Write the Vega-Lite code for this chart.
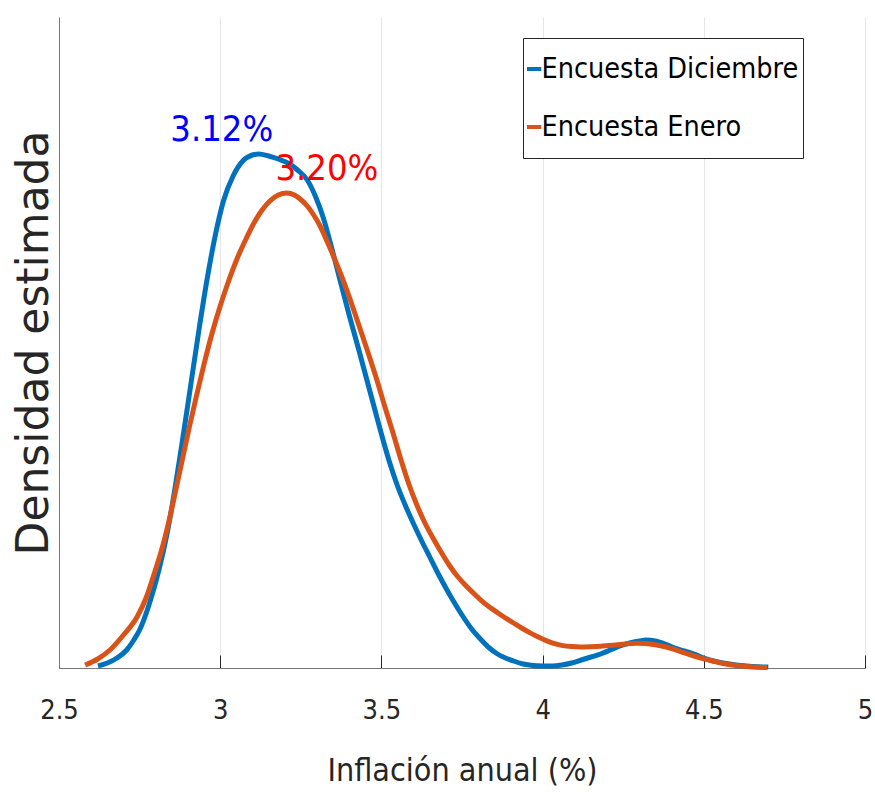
{
  "$schema": "https://vega.github.io/schema/vega-lite/v6.json",
  "width": 806,
  "height": 651,
  "autosize": {"type": "none"},
  "padding": {"left": 59, "top": 17, "right": 10, "bottom": 132},
  "background": "white",
  "config": {"view": {"stroke": null}, "font": "DejaVu Sans Condensed, Liberation Sans, sans-serif"},
  "datasets": {
    "kde": [
      {"encuesta": "Encuesta Diciembre", "inflacion": 2.621, "densidad": 0.01},
      {"encuesta": "Encuesta Diciembre", "inflacion": 2.65, "densidad": 0.025},
      {"encuesta": "Encuesta Diciembre", "inflacion": 2.68, "densidad": 0.05},
      {"encuesta": "Encuesta Diciembre", "inflacion": 2.71, "densidad": 0.09},
      {"encuesta": "Encuesta Diciembre", "inflacion": 2.73, "densidad": 0.135},
      {"encuesta": "Encuesta Diciembre", "inflacion": 2.75, "densidad": 0.19},
      {"encuesta": "Encuesta Diciembre", "inflacion": 2.782, "densidad": 0.33},
      {"encuesta": "Encuesta Diciembre", "inflacion": 2.81, "densidad": 0.49},
      {"encuesta": "Encuesta Diciembre", "inflacion": 2.835, "densidad": 0.67},
      {"encuesta": "Encuesta Diciembre", "inflacion": 2.86, "densidad": 0.9},
      {"encuesta": "Encuesta Diciembre", "inflacion": 2.885, "densidad": 1.16},
      {"encuesta": "Encuesta Diciembre", "inflacion": 2.91, "densidad": 1.43},
      {"encuesta": "Encuesta Diciembre", "inflacion": 2.935, "densidad": 1.7},
      {"encuesta": "Encuesta Diciembre", "inflacion": 2.96, "densidad": 1.95},
      {"encuesta": "Encuesta Diciembre", "inflacion": 2.985, "densidad": 2.165},
      {"encuesta": "Encuesta Diciembre", "inflacion": 3.01, "densidad": 2.335},
      {"encuesta": "Encuesta Diciembre", "inflacion": 3.04, "densidad": 2.46},
      {"encuesta": "Encuesta Diciembre", "inflacion": 3.07, "densidad": 2.535},
      {"encuesta": "Encuesta Diciembre", "inflacion": 3.1, "densidad": 2.565},
      {"encuesta": "Encuesta Diciembre", "inflacion": 3.12, "densidad": 2.57},
      {"encuesta": "Encuesta Diciembre", "inflacion": 3.15, "densidad": 2.56},
      {"encuesta": "Encuesta Diciembre", "inflacion": 3.18, "densidad": 2.545},
      {"encuesta": "Encuesta Diciembre", "inflacion": 3.21, "densidad": 2.525},
      {"encuesta": "Encuesta Diciembre", "inflacion": 3.24, "densidad": 2.49},
      {"encuesta": "Encuesta Diciembre", "inflacion": 3.27, "densidad": 2.44},
      {"encuesta": "Encuesta Diciembre", "inflacion": 3.295, "densidad": 2.36},
      {"encuesta": "Encuesta Diciembre", "inflacion": 3.32, "densidad": 2.25},
      {"encuesta": "Encuesta Diciembre", "inflacion": 3.345, "densidad": 2.105},
      {"encuesta": "Encuesta Diciembre", "inflacion": 3.37, "densidad": 1.95},
      {"encuesta": "Encuesta Diciembre", "inflacion": 3.4, "densidad": 1.765},
      {"encuesta": "Encuesta Diciembre", "inflacion": 3.43, "densidad": 1.59},
      {"encuesta": "Encuesta Diciembre", "inflacion": 3.455, "densidad": 1.44},
      {"encuesta": "Encuesta Diciembre", "inflacion": 3.48, "densidad": 1.29},
      {"encuesta": "Encuesta Diciembre", "inflacion": 3.5, "densidad": 1.17},
      {"encuesta": "Encuesta Diciembre", "inflacion": 3.525, "densidad": 1.03},
      {"encuesta": "Encuesta Diciembre", "inflacion": 3.55, "densidad": 0.91},
      {"encuesta": "Encuesta Diciembre", "inflacion": 3.575, "densidad": 0.81},
      {"encuesta": "Encuesta Diciembre", "inflacion": 3.6, "densidad": 0.72},
      {"encuesta": "Encuesta Diciembre", "inflacion": 3.625, "densidad": 0.635},
      {"encuesta": "Encuesta Diciembre", "inflacion": 3.65, "densidad": 0.555},
      {"encuesta": "Encuesta Diciembre", "inflacion": 3.675, "densidad": 0.475},
      {"encuesta": "Encuesta Diciembre", "inflacion": 3.7, "densidad": 0.4},
      {"encuesta": "Encuesta Diciembre", "inflacion": 3.725, "densidad": 0.33},
      {"encuesta": "Encuesta Diciembre", "inflacion": 3.75, "densidad": 0.265},
      {"encuesta": "Encuesta Diciembre", "inflacion": 3.78, "densidad": 0.195},
      {"encuesta": "Encuesta Diciembre", "inflacion": 3.81, "densidad": 0.14},
      {"encuesta": "Encuesta Diciembre", "inflacion": 3.835, "densidad": 0.1},
      {"encuesta": "Encuesta Diciembre", "inflacion": 3.86, "densidad": 0.07},
      {"encuesta": "Encuesta Diciembre", "inflacion": 3.885, "densidad": 0.05},
      {"encuesta": "Encuesta Diciembre", "inflacion": 3.91, "densidad": 0.035},
      {"encuesta": "Encuesta Diciembre", "inflacion": 3.94, "densidad": 0.02},
      {"encuesta": "Encuesta Diciembre", "inflacion": 3.97, "densidad": 0.0125},
      {"encuesta": "Encuesta Diciembre", "inflacion": 4.0, "densidad": 0.01},
      {"encuesta": "Encuesta Diciembre", "inflacion": 4.03, "densidad": 0.01},
      {"encuesta": "Encuesta Diciembre", "inflacion": 4.06, "densidad": 0.015},
      {"encuesta": "Encuesta Diciembre", "inflacion": 4.09, "densidad": 0.025},
      {"encuesta": "Encuesta Diciembre", "inflacion": 4.12, "densidad": 0.04},
      {"encuesta": "Encuesta Diciembre", "inflacion": 4.15, "densidad": 0.055},
      {"encuesta": "Encuesta Diciembre", "inflacion": 4.18, "densidad": 0.07},
      {"encuesta": "Encuesta Diciembre", "inflacion": 4.21, "densidad": 0.09},
      {"encuesta": "Encuesta Diciembre", "inflacion": 4.24, "densidad": 0.11},
      {"encuesta": "Encuesta Diciembre", "inflacion": 4.27, "densidad": 0.125},
      {"encuesta": "Encuesta Diciembre", "inflacion": 4.3, "densidad": 0.135},
      {"encuesta": "Encuesta Diciembre", "inflacion": 4.32, "densidad": 0.14},
      {"encuesta": "Encuesta Diciembre", "inflacion": 4.35, "densidad": 0.135},
      {"encuesta": "Encuesta Diciembre", "inflacion": 4.38, "densidad": 0.12},
      {"encuesta": "Encuesta Diciembre", "inflacion": 4.41, "densidad": 0.1},
      {"encuesta": "Encuesta Diciembre", "inflacion": 4.44, "densidad": 0.085},
      {"encuesta": "Encuesta Diciembre", "inflacion": 4.47, "densidad": 0.07},
      {"encuesta": "Encuesta Diciembre", "inflacion": 4.5, "densidad": 0.05},
      {"encuesta": "Encuesta Diciembre", "inflacion": 4.53, "densidad": 0.035},
      {"encuesta": "Encuesta Diciembre", "inflacion": 4.56, "densidad": 0.025},
      {"encuesta": "Encuesta Diciembre", "inflacion": 4.6, "densidad": 0.015},
      {"encuesta": "Encuesta Diciembre", "inflacion": 4.65, "densidad": 0.0075},
      {"encuesta": "Encuesta Diciembre", "inflacion": 4.7, "densidad": 0.005},
      {"encuesta": "Encuesta Enero", "inflacion": 2.581, "densidad": 0.015},
      {"encuesta": "Encuesta Enero", "inflacion": 2.62, "densidad": 0.045},
      {"encuesta": "Encuesta Enero", "inflacion": 2.658, "densidad": 0.09},
      {"encuesta": "Encuesta Enero", "inflacion": 2.7, "densidad": 0.165},
      {"encuesta": "Encuesta Enero", "inflacion": 2.742, "densidad": 0.255},
      {"encuesta": "Encuesta Enero", "inflacion": 2.77, "densidad": 0.35},
      {"encuesta": "Encuesta Enero", "inflacion": 2.792, "densidad": 0.455},
      {"encuesta": "Encuesta Enero", "inflacion": 2.82, "densidad": 0.6},
      {"encuesta": "Encuesta Enero", "inflacion": 2.844, "densidad": 0.755},
      {"encuesta": "Encuesta Enero", "inflacion": 2.865, "densidad": 0.91},
      {"encuesta": "Encuesta Enero", "inflacion": 2.885, "densidad": 1.06},
      {"encuesta": "Encuesta Enero", "inflacion": 2.905, "densidad": 1.21},
      {"encuesta": "Encuesta Enero", "inflacion": 2.927, "densidad": 1.365},
      {"encuesta": "Encuesta Enero", "inflacion": 2.95, "densidad": 1.52},
      {"encuesta": "Encuesta Enero", "inflacion": 2.975, "densidad": 1.675},
      {"encuesta": "Encuesta Enero", "inflacion": 3.0, "densidad": 1.81},
      {"encuesta": "Encuesta Enero", "inflacion": 3.025, "densidad": 1.93},
      {"encuesta": "Encuesta Enero", "inflacion": 3.052, "densidad": 2.045},
      {"encuesta": "Encuesta Enero", "inflacion": 3.08, "densidad": 2.145},
      {"encuesta": "Encuesta Enero", "inflacion": 3.103, "densidad": 2.22},
      {"encuesta": "Encuesta Enero", "inflacion": 3.13, "densidad": 2.29},
      {"encuesta": "Encuesta Enero", "inflacion": 3.154, "densidad": 2.335},
      {"encuesta": "Encuesta Enero", "inflacion": 3.18, "densidad": 2.365},
      {"encuesta": "Encuesta Enero", "inflacion": 3.207, "densidad": 2.375},
      {"encuesta": "Encuesta Enero", "inflacion": 3.23, "densidad": 2.365},
      {"encuesta": "Encuesta Enero", "inflacion": 3.248, "densidad": 2.345},
      {"encuesta": "Encuesta Enero", "inflacion": 3.27, "densidad": 2.31},
      {"encuesta": "Encuesta Enero", "inflacion": 3.288, "densidad": 2.27},
      {"encuesta": "Encuesta Enero", "inflacion": 3.31, "densidad": 2.21},
      {"encuesta": "Encuesta Enero", "inflacion": 3.331, "densidad": 2.135},
      {"encuesta": "Encuesta Enero", "inflacion": 3.355, "densidad": 2.045},
      {"encuesta": "Encuesta Enero", "inflacion": 3.381, "densidad": 1.94},
      {"encuesta": "Encuesta Enero", "inflacion": 3.41, "densidad": 1.81},
      {"encuesta": "Encuesta Enero", "inflacion": 3.434, "densidad": 1.695},
      {"encuesta": "Encuesta Enero", "inflacion": 3.46, "densidad": 1.57},
      {"encuesta": "Encuesta Enero", "inflacion": 3.485, "densidad": 1.445},
      {"encuesta": "Encuesta Enero", "inflacion": 3.51, "densidad": 1.31},
      {"encuesta": "Encuesta Enero", "inflacion": 3.536, "densidad": 1.175},
      {"encuesta": "Encuesta Enero", "inflacion": 3.56, "densidad": 1.045},
      {"encuesta": "Encuesta Enero", "inflacion": 3.585, "densidad": 0.92},
      {"encuesta": "Encuesta Enero", "inflacion": 3.61, "densidad": 0.815},
      {"encuesta": "Encuesta Enero", "inflacion": 3.635, "densidad": 0.725},
      {"encuesta": "Encuesta Enero", "inflacion": 3.66, "densidad": 0.65},
      {"encuesta": "Encuesta Enero", "inflacion": 3.685, "densidad": 0.58},
      {"encuesta": "Encuesta Enero", "inflacion": 3.71, "densidad": 0.515},
      {"encuesta": "Encuesta Enero", "inflacion": 3.735, "densidad": 0.46},
      {"encuesta": "Encuesta Enero", "inflacion": 3.76, "densidad": 0.415},
      {"encuesta": "Encuesta Enero", "inflacion": 3.785, "densidad": 0.375},
      {"encuesta": "Encuesta Enero", "inflacion": 3.81, "densidad": 0.337},
      {"encuesta": "Encuesta Enero", "inflacion": 3.835, "densidad": 0.305},
      {"encuesta": "Encuesta Enero", "inflacion": 3.86, "densidad": 0.277},
      {"encuesta": "Encuesta Enero", "inflacion": 3.885, "densidad": 0.25},
      {"encuesta": "Encuesta Enero", "inflacion": 3.91, "densidad": 0.225},
      {"encuesta": "Encuesta Enero", "inflacion": 3.935, "densidad": 0.2},
      {"encuesta": "Encuesta Enero", "inflacion": 3.96, "densidad": 0.177},
      {"encuesta": "Encuesta Enero", "inflacion": 3.99, "densidad": 0.152},
      {"encuesta": "Encuesta Enero", "inflacion": 4.013, "densidad": 0.136},
      {"encuesta": "Encuesta Enero", "inflacion": 4.04, "densidad": 0.121},
      {"encuesta": "Encuesta Enero", "inflacion": 4.063, "densidad": 0.112},
      {"encuesta": "Encuesta Enero", "inflacion": 4.09, "densidad": 0.107},
      {"encuesta": "Encuesta Enero", "inflacion": 4.116, "densidad": 0.105},
      {"encuesta": "Encuesta Enero", "inflacion": 4.15, "densidad": 0.1065},
      {"encuesta": "Encuesta Enero", "inflacion": 4.18, "densidad": 0.109},
      {"encuesta": "Encuesta Enero", "inflacion": 4.218, "densidad": 0.114},
      {"encuesta": "Encuesta Enero", "inflacion": 4.25, "densidad": 0.119},
      {"encuesta": "Encuesta Enero", "inflacion": 4.29, "densidad": 0.124},
      {"encuesta": "Encuesta Enero", "inflacion": 4.32, "densidad": 0.1225},
      {"encuesta": "Encuesta Enero", "inflacion": 4.35, "densidad": 0.116},
      {"encuesta": "Encuesta Enero", "inflacion": 4.38, "densidad": 0.106},
      {"encuesta": "Encuesta Enero", "inflacion": 4.4, "densidad": 0.097},
      {"encuesta": "Encuesta Enero", "inflacion": 4.43, "densidad": 0.081},
      {"encuesta": "Encuesta Enero", "inflacion": 4.46, "densidad": 0.065},
      {"encuesta": "Encuesta Enero", "inflacion": 4.5, "densidad": 0.046},
      {"encuesta": "Encuesta Enero", "inflacion": 4.53, "densidad": 0.034},
      {"encuesta": "Encuesta Enero", "inflacion": 4.56, "densidad": 0.0225},
      {"encuesta": "Encuesta Enero", "inflacion": 4.6, "densidad": 0.0125},
      {"encuesta": "Encuesta Enero", "inflacion": 4.65, "densidad": 0.005},
      {"encuesta": "Encuesta Enero", "inflacion": 4.696, "densidad": 0.0025}
    ]
  },
  "layer": [
    {
      "data": {"name": "kde"},
      "mark": {"type": "line", "strokeWidth": 5, "interpolate": "monotone"},
      "encoding": {
        "x": {
          "field": "inflacion",
          "type": "quantitative",
          "scale": {"domain": [2.5, 5], "nice": false, "zero": false},
          "axis": {
            "title": "Inflación anual (%)",
            "values": [2.5, 3, 3.5, 4, 4.5, 5],
            "format": "~g",
            "grid": true,
            "gridColor": "#e6e6e6",
            "gridWidth": 1,
            "domainColor": "#777777",
            "domainWidth": 1,
            "tickColor": "#262626",
            "tickSize": -13,
            "tickWidth": 1,
            "labelFontSize": 27,
            "labelColor": "#262626",
            "labelPadding": 42,
            "labelFlush": false,
            "titleFontSize": 32,
            "titleFontWeight": "normal",
            "titleColor": "#262626",
            "titlePadding": 32
          }
        },
        "y": {
          "field": "densidad",
          "type": "quantitative",
          "scale": {"domain": [0, 3.255], "nice": false},
          "axis": {
            "title": "Densidad estimada",
            "ticks": false,
            "labels": false,
            "grid": false,
            "domainColor": "#777777",
            "domainWidth": 1,
            "titleFont": "DejaVu Sans",
            "titleFontSize": 44,
            "titleFontWeight": "normal",
            "titleColor": "#262626",
            "titlePadding": 3
          }
        },
        "color": {
          "field": "encuesta",
          "type": "nominal",
          "scale": {"domain": ["Encuesta Diciembre", "Encuesta Enero"], "range": ["#0072BD", "#D95319"]},
          "legend": {
            "title": null,
            "orient": "none",
            "legendX": 464,
            "legendY": 21,
            "symbolType": "stroke",
            "symbolSize": 256,
            "symbolStrokeWidth": 4,
            "symbolOffset": -8,
            "labelFontSize": 28.5,
            "labelColor": "black",
            "labelLimit": 400,
            "labelOffset": -6,
            "strokeColor": "#262626",
            "fillColor": "white",
            "padding": 4,
            "rowPadding": 4,
            "clipHeight": 54
          }
        }
      }
    },
    {
      "data": {"values": [{"inflacion": 3.005, "densidad": 2.635, "etiqueta": "3.12%"}]},
      "mark": {"type": "text", "color": "#0000FF", "fontSize": 36, "align": "center", "baseline": "alphabetic"},
      "encoding": {
        "x": {"field": "inflacion", "type": "quantitative"},
        "y": {"field": "densidad", "type": "quantitative"},
        "text": {"field": "etiqueta"}
      }
    },
    {
      "data": {"values": [{"inflacion": 3.331, "densidad": 2.44, "etiqueta": "3.20%"}]},
      "mark": {"type": "text", "color": "#FF0000", "fontSize": 36, "align": "center", "baseline": "alphabetic"},
      "encoding": {
        "x": {"field": "inflacion", "type": "quantitative"},
        "y": {"field": "densidad", "type": "quantitative"},
        "text": {"field": "etiqueta"}
      }
    }
  ]
}
